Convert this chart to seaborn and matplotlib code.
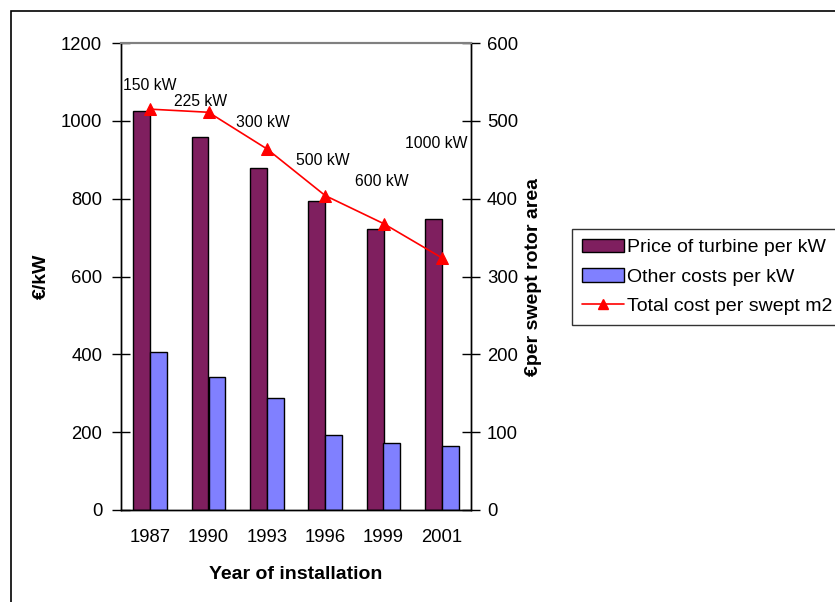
import numpy as np
import pandas as pd
import matplotlib
matplotlib.use('Agg')
import matplotlib.pyplot as plt
from matplotlib.patches import Patch, Rectangle
from matplotlib.lines import Line2D
import seaborn as sns

# data
years = ['1987', '1990', '1993', '1996', '1999', '2001']
turbine_price = [1025, 959, 879, 794, 722, 748]
other_costs = [406, 342, 288, 193, 172, 165]
total_per_m2 = [515, 511, 464, 404, 368, 324]
sizes = ['150 kW', '225 kW', '300 kW', '500 kW', '600 kW', '1000 kW']

series_names = ['Price of turbine per kW', 'Other costs per kW', 'Total cost per swept m2']
PURPLE = '#7f1f5f'
BLUE = '#8080ff'
RED = '#ff0000'

sns.set_style('white')
plt.rcParams.update({
    'font.family': ['Liberation Sans', 'DejaVu Sans'],
    'text.color': 'black',
    'axes.labelcolor': 'black',
    'xtick.color': 'black',
    'ytick.color': 'black',
})

df = pd.DataFrame({
    'year': years * 2,
    'value': turbine_price + other_costs,
    'series': [series_names[0]] * len(years) + [series_names[1]] * len(years),
})

fig = plt.figure(figsize=(8.35, 6.02), dpi=100)
ax = fig.add_axes([121 / 835, 1 - 510 / 602, 350 / 835, 467 / 602])

sns.barplot(data=df, x='year', y='value', hue='series', order=years,
            palette=[PURPLE, BLUE], width=0.58, gap=0, edgecolor='black',
            linewidth=1, saturation=1, legend=False, ax=ax)

ax2 = ax.twinx()
sns.lineplot(x=np.arange(len(years)), y=total_per_m2, ax=ax2, color=RED,
             marker='^', markersize=9, markeredgecolor=RED, linewidth=1.2)

# data labels, moved by hand like in the original
label_offsets = [(0, 17), (-6, 8), (-3, 19), (-2, 25), (-1, 30), (-4, 82)]
for i, (txt, off) in enumerate(zip(sizes, label_offsets)):
    ax2.annotate(txt, (i, total_per_m2[i]), xytext=off, textcoords='offset points',
                 ha='center', va='center', fontsize=11.3)

ax.set_xlim(-0.5, len(years) - 0.5)
ax2.set_xlim(-0.5, len(years) - 0.5)
ax.set_ylim(0, 1200)
ax.set_yticks(range(0, 1201, 200))
ax2.set_ylim(0, 600)
ax2.set_yticks(range(0, 601, 100))

ax.set_xticks(np.arange(-0.5, len(years), 1), minor=True)
ax.tick_params(axis='x', which='major', length=0, pad=14, labelsize=13.3)
ax.tick_params(axis='x', which='minor', length=6, width=1, direction='out', color='black')
ax.tick_params(axis='y', length=13, width=1, direction='inout', pad=7, labelsize=13.3, color='black')
ax2.tick_params(axis='y', length=13, width=1, direction='inout', pad=5, labelsize=13.3, color='black')

for a in (ax, ax2):
    for s in ('left', 'right', 'bottom'):
        a.spines[s].set_color('black')
        a.spines[s].set_linewidth(1)
    a.spines['top'].set_color('#808080')
    a.spines['top'].set_linewidth(1.5)

ax.set_xlabel('Year of installation', fontsize=14, fontweight='bold', labelpad=14)
ax.set_ylabel('€/kW', fontsize=14, fontweight='bold')
ax.yaxis.set_label_coords(-0.203, 0.5)
ax2.set_ylabel('€per swept rotor area', fontsize=14, fontweight='bold')
ax2.yaxis.set_label_coords(1.154, 0.5)

handles = [Patch(facecolor=PURPLE, edgecolor='black', linewidth=1),
           Patch(facecolor=BLUE, edgecolor='black', linewidth=1),
           Line2D([], [], color=RED, marker='^', markersize=7, linewidth=1.2)]
leg = fig.legend(handles, series_names, loc='upper left',
                 bbox_to_anchor=(572 / 835, 1 - 229 / 602), fontsize=14,
                 frameon=True, fancybox=False, edgecolor='black',
                 borderpad=0.5, labelspacing=0.6, handlelength=2.15,
                 handletextpad=0.2, borderaxespad=0)
leg.get_frame().set_linewidth(1)

# outer chart-area frame (runs off the right and bottom edges)
fig.patches.append(Rectangle((11 / 835, -0.1), 1.2, 1 - 11 / 602 + 0.1,
                             transform=fig.transFigure, fill=False,
                             edgecolor='black', linewidth=1.2))

fig.savefig('out.png', dpi=100)
